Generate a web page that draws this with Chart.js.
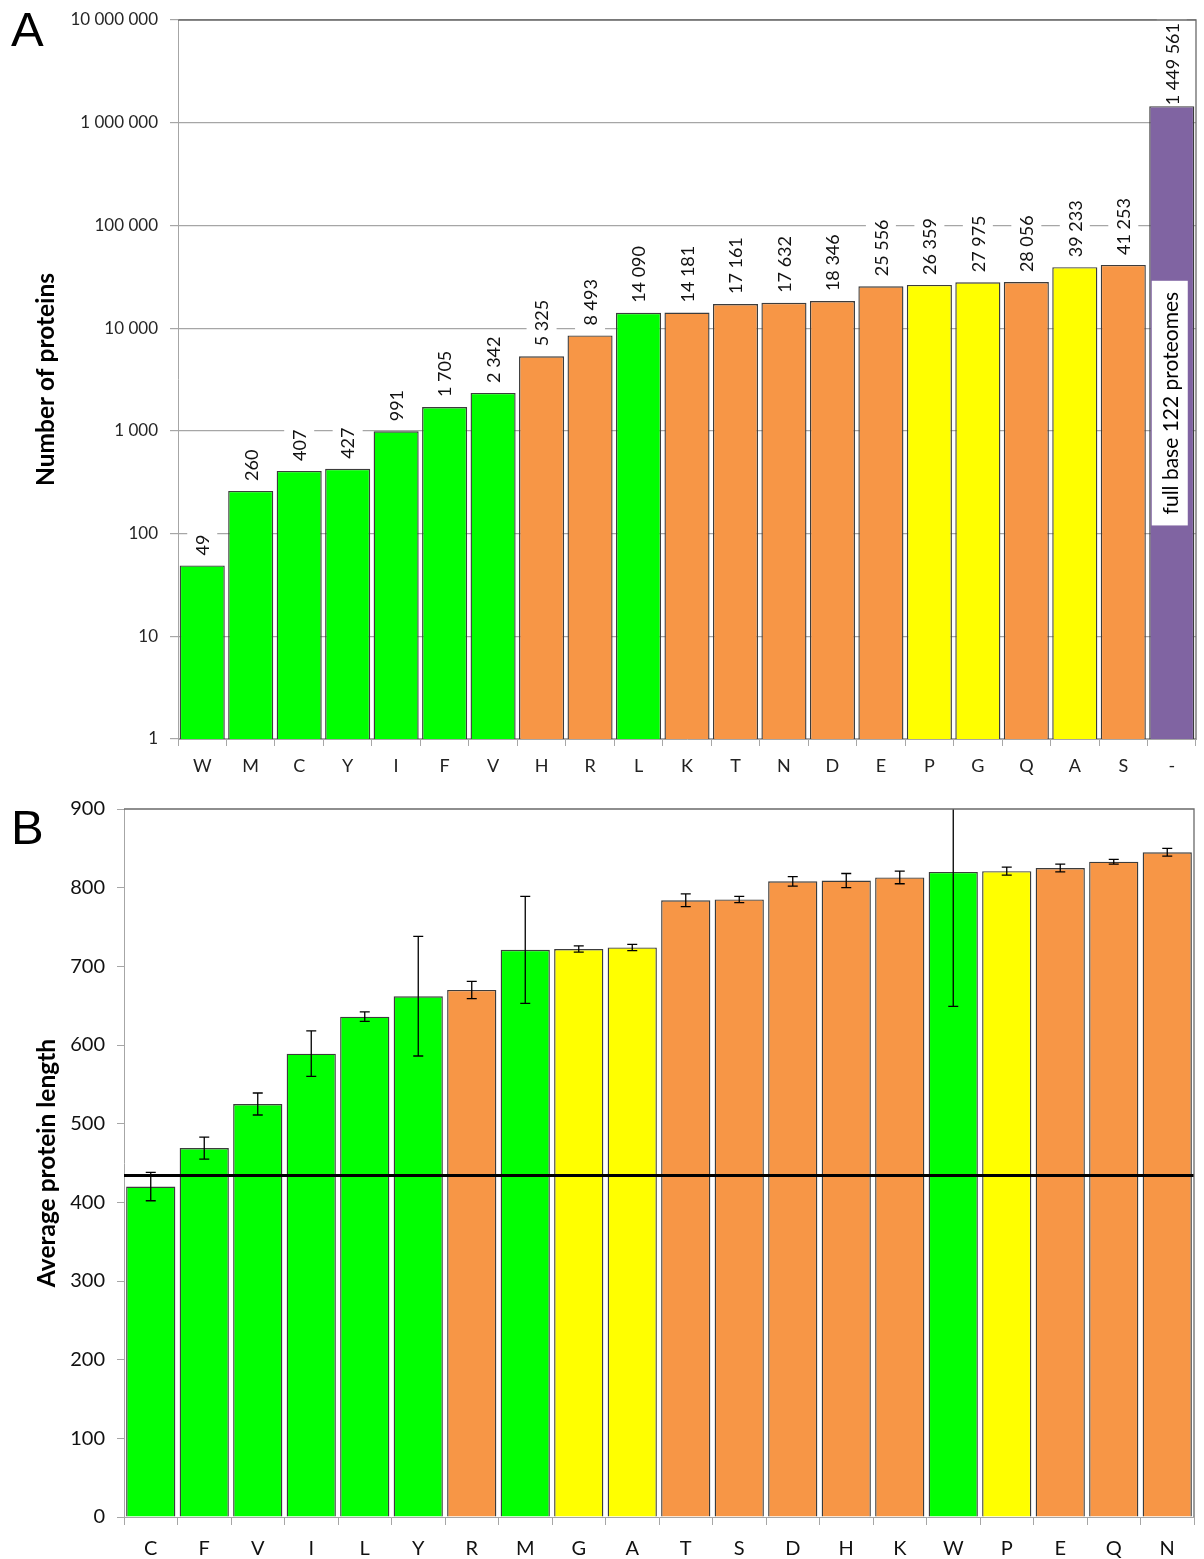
<!DOCTYPE html>
<html>
<head>
<meta charset="utf-8">
<script src="https://cdn.jsdelivr.net/npm/chart.js@4.4.1/dist/chart.umd.min.js"></script>
<style>
  html, body { margin: 0; padding: 0; background: #fff; }
  #wrap { position: relative; width: 1204px; height: 1559px; overflow: hidden; }
  .panel { position: absolute; left: 11px; font-family: "Liberation Sans", Arial, sans-serif; font-size: 49px; line-height: 1; color: #000; }
  #pA { top: 5px; }
  #pB { top: 803px; }
  #cA { position: absolute; left: 0; top: 0; }
  #cB { position: absolute; left: 0; top: 790px; }
</style>
</head>
<body>
<div id="wrap">
  <canvas id="cA" width="1204" height="790"></canvas>
  <canvas id="cB" width="1204" height="769"></canvas>
  <div class="panel" id="pA">A</div>
  <div class="panel" id="pB">B</div>
</div>
<script>
// ---------- data ----------
const aCategories = ['W','M','C','Y','I','F','V','H','R','L','K','T','N','D','E','P','G','Q','A','S','-'];
const aCounts = [49, 260, 407, 427, 991, 1705, 2342, 5325, 8493, 14090, 14181, 17161, 17632, 18346, 25556, 26359, 27975, 28056, 39233, 41253, 1449561];
const aGroups = ['g','g','g','g','g','g','g','o','o','g','o','o','o','o','o','y','y','o','y','o','all'];
const aTicks = [1, 10, 100, 1000, 10000, 100000, 1000000, 10000000];
const aNote = 'full base 122 proteomes';

const bCategories = ['C','F','V','I','L','Y','R','M','G','A','T','S','D','H','K','W','P','E','Q','N'];
const bLengths = [420, 469, 525, 589, 636, 662, 670, 721, 722, 724, 784, 785, 808, 809, 813, 820, 821, 825, 833, 845];
const bErrors = [18, 14, 14, 29, 6, 76, 11, 68, 4, 4, 8, 4, 6, 9, 8, 171, 5, 5, 3, 5];
const bGroups = ['g','g','g','g','g','g','o','g','y','y','o','o','o','o','o','g','y','o','o','o'];
const bTicks = [0, 100, 200, 300, 400, 500, 600, 700, 800, 900];
const bReference = 434;

// ---------- styles ----------
const palette = { g: '#00FF00', o: '#F79646', y: '#FFFF00', all: '#8064A2' };
const FONT = 'Lato, "Open Sans", sans-serif';
const fmt = n => String(Math.round(n)).replace(/\B(?=(\d{3})+(?!\d))/g, ' ');

const framePlugin = {
  id: 'frame',
  afterDraw(chart) {
    const { ctx, chartArea: a } = chart;
    ctx.save();
    ctx.strokeStyle = '#6a6a6a';
    ctx.lineWidth = 1.3;
    ctx.beginPath();
    ctx.moveTo(a.left, a.top); ctx.lineTo(a.right, a.top); ctx.lineTo(a.right, a.bottom);
    ctx.stroke();
    ctx.restore();
  }
};

const barLabelPlugin = {
  id: 'barLabels',
  afterDatasetsDraw(chart) {
    const { ctx, chartArea: a } = chart;
    const meta = chart.getDatasetMeta(0);
    ctx.save();
    ctx.font = '18px ' + FONT;
    meta.data.forEach((bar, i) => {
      const txt = fmt(aCounts[i]);
      const w = ctx.measureText(txt).width;
      let start = bar.y - 10;
      if (start - w < a.top + 3) start = a.top + 3 + w;
      const below = Math.min(6, bar.y - start - 1.5);
      ctx.save();
      ctx.translate(bar.x, start);
      ctx.rotate(-Math.PI / 2);
      ctx.fillStyle = '#fff';
      ctx.fillRect(-below, -15, w + 6 + below, 30);
      ctx.fillStyle = '#111';
      ctx.textAlign = 'left';
      ctx.textBaseline = 'middle';
      ctx.fillText(txt, 0, 1);
      ctx.restore();
    });
    // note inside the last bar
    const last = meta.data[meta.data.length - 1];
    const ys = chart.scales.y;
    ctx.font = '21px ' + FONT;
    const tw = ctx.measureText(aNote).width;
    const bottom = ys.getPixelForValue(120);
    const pad = 11;
    const h = tw + pad * 2;
    const cx = last.x - 2;
    ctx.fillStyle = '#fff';
    ctx.fillRect(cx - 18, bottom - h, 36, h);
    ctx.save();
    ctx.translate(cx + 1, bottom - pad);
    ctx.rotate(-Math.PI / 2);
    ctx.fillStyle = '#000';
    ctx.textAlign = 'left';
    ctx.textBaseline = 'middle';
    ctx.fillText(aNote, 0, 0);
    ctx.restore();
    ctx.restore();
  }
};

const errorPlugin = {
  id: 'errors',
  afterDatasetsDraw(chart) {
    const { ctx, chartArea: a } = chart;
    const ys = chart.scales.y;
    const meta = chart.getDatasetMeta(0);
    ctx.save();
    ctx.beginPath();
    ctx.rect(a.left, a.top, a.right - a.left, a.bottom - a.top);
    ctx.clip();
    ctx.strokeStyle = '#000';
    ctx.lineWidth = 1.3;
    meta.data.forEach((bar, i) => {
      const yHi = ys.getPixelForValue(bLengths[i] + bErrors[i]);
      const yLo = ys.getPixelForValue(bLengths[i] - bErrors[i]);
      ctx.beginPath();
      ctx.moveTo(bar.x, yHi); ctx.lineTo(bar.x, yLo);
      ctx.moveTo(bar.x - 5, yHi); ctx.lineTo(bar.x + 5, yHi);
      ctx.moveTo(bar.x - 5, yLo); ctx.lineTo(bar.x + 5, yLo);
      ctx.stroke();
    });
    ctx.restore();
    // reference line
    const yr = ys.getPixelForValue(bReference);
    ctx.save();
    ctx.strokeStyle = '#000';
    ctx.lineWidth = 3;
    ctx.beginPath();
    ctx.moveTo(a.left, yr); ctx.lineTo(a.right, yr);
    ctx.stroke();
    ctx.restore();
  }
};

Chart.defaults.font.family = FONT;

new Chart(document.getElementById('cA'), {
  type: 'bar',
  data: {
    labels: aCategories,
    datasets: [{
      data: aCounts,
      backgroundColor: aGroups.map(g => palette[g]),
      borderColor: '#3c3c3c',
      borderWidth: 1.4,
      barPercentage: 0.93,
      categoryPercentage: 1.0
    }]
  },
  options: {
    responsive: false,
    animation: false,
    layout: { padding: { left: 0, right: 8, top: 20, bottom: 0 } },
    plugins: { legend: { display: false }, tooltip: { enabled: false } },
    scales: {
      x: {
        type: 'category',
        grid: { offset: true, drawOnChartArea: false, drawTicks: true, tickLength: 7, color: '#A6A6A6' },
        border: { color: '#A6A6A6' },
        ticks: { font: { size: 18 }, color: '#222', padding: 9, maxRotation: 0, autoSkip: false },
        afterFit(s) { s.height = 51; s.paddingLeft = 0; s.paddingRight = 0; }
      },
      y: {
        type: 'logarithmic',
        min: 1, max: 10000000,
        afterBuildTicks(s) { s.ticks = aTicks.map(v => ({ value: v })); },
        ticks: { callback: v => fmt(v), font: { size: 17 }, color: '#262626', padding: 12 },
        grid: { color: '#A6A6A6', tickLength: 8, lineWidth: 1.2 },
        border: { color: '#A6A6A6' },
        title: { display: true, text: 'Number of proteins', font: { size: 24.5, weight: 'bold' }, color: '#000', padding: { top: 31, bottom: 0 } },
        afterFit(s) { s.width = 178; s.paddingTop = 0; s.paddingBottom = 0; }
      }
    }
  },
  plugins: [framePlugin, barLabelPlugin]
});

new Chart(document.getElementById('cB'), {
  type: 'bar',
  data: {
    labels: bCategories,
    datasets: [{
      data: bLengths,
      backgroundColor: bGroups.map(g => palette[g]),
      borderColor: '#3c3c3c',
      borderWidth: 1.4,
      barPercentage: 0.92,
      categoryPercentage: 1.0
    }]
  },
  options: {
    responsive: false,
    animation: false,
    layout: { padding: { left: 0, right: 10, top: 19, bottom: 0 } },
    plugins: { legend: { display: false }, tooltip: { enabled: false } },
    scales: {
      x: {
        type: 'category',
        grid: { offset: true, drawOnChartArea: false, drawTicks: true, tickLength: 8, color: '#A6A6A6' },
        border: { color: '#A6A6A6' },
        ticks: { font: { size: 20 }, color: '#111', padding: 12, maxRotation: 0, autoSkip: false },
        afterFit(s) { s.height = 42; s.paddingLeft = 0; s.paddingRight = 0; }
      },
      y: {
        type: 'linear',
        min: 0, max: 900,
        afterBuildTicks(s) { s.ticks = bTicks.map(v => ({ value: v })); },
        ticks: { font: { size: 20 }, color: '#111', padding: 12 },
        grid: { drawOnChartArea: false, color: '#A6A6A6', tickLength: 7 },
        border: { color: '#A6A6A6' },
        title: { display: true, text: 'Average protein length', font: { size: 24.5, weight: 'bold' }, color: '#000', padding: { top: 32, bottom: 0 } },
        afterFit(s) { s.width = 124; s.paddingTop = 0; s.paddingBottom = 0; }
      }
    }
  },
  plugins: [framePlugin, errorPlugin]
});
</script>
</body>
</html>
